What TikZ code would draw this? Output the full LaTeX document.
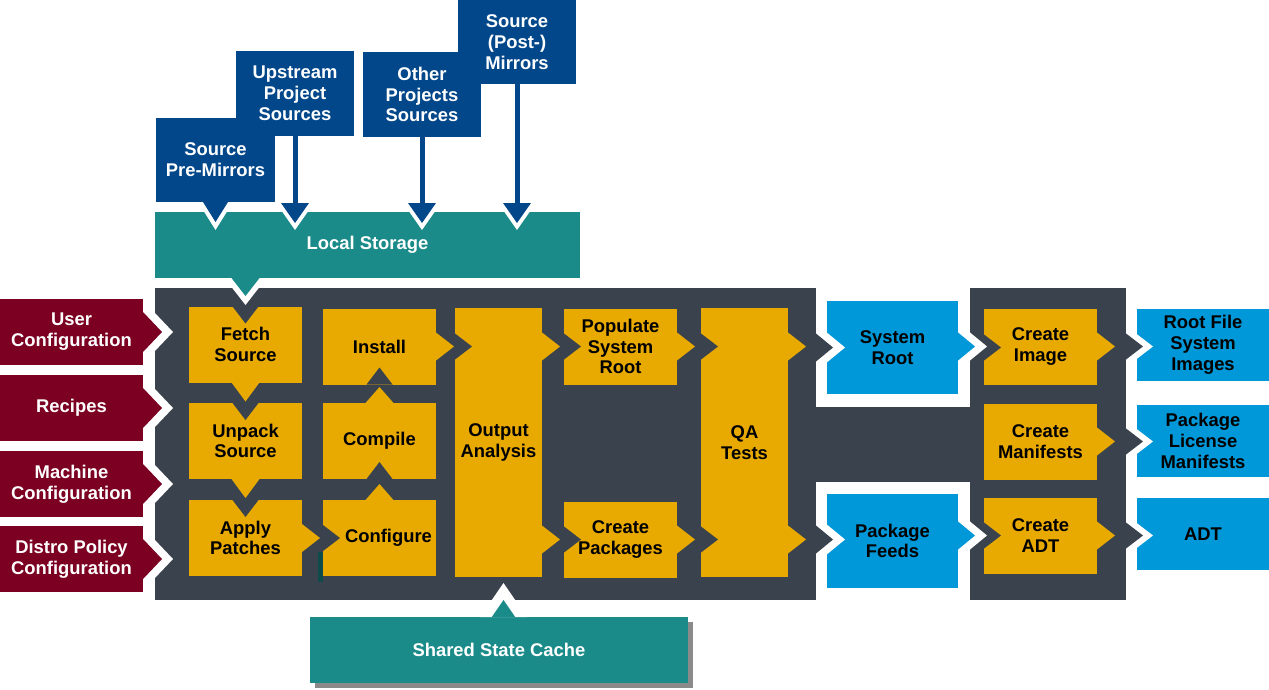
\documentclass[tikz,border=0pt]{standalone}
\usepackage{fontspec}
\setmainfont{Liberation Sans}
\usetikzlibrary{calc,shadows}
\definecolor{srcblue}{RGB}{2,71,137}
\definecolor{storeteal}{RGB}{26,139,136}
\definecolor{panelgray}{RGB}{58,67,77}
\definecolor{taskgold}{RGB}{232,169,0}
\definecolor{outblue}{RGB}{0,152,216}
\definecolor{confred}{RGB}{123,0,34}
\newcommand{\boxfont}{\fontsize{13.8}{15.6}\selectfont\bfseries}
\tikzstyle{block}=[inner sep=0pt, outer sep=0pt, align=center, font=\boxfont]
\tikzstyle{area}=[block, fill=panelgray]
\tikzstyle{source}=[block, fill=srcblue, text=white]
\tikzstyle{store}=[block, fill=storeteal, text=white]
\tikzstyle{cache}=[store, drop shadow={shadow xshift=3.4pt, shadow yshift=-3.4pt, fill=black!46, opacity=1}]
\tikzstyle{config}=[block, fill=confred, text=white]
\tikzstyle{task}=[block, fill=taskgold, text=black]
\tikzstyle{result}=[block, fill=outblue, text=black]
\tikzstyle{shaft}=[draw=srcblue, line width=3.75pt]
\tikzset{
  wh/.style 2 args={minimum width=#1*0.75pt, minimum height=#2*0.75pt},
  pics/chev/.style args={#1/#2/#3}{code={\fill[#1] (0,-#2) -- (#3,0) -- (0,#2) -- cycle;}},
  pics/notch/.style={code={\fill[panelgray] (0,-13) -- (17,0) -- (0,13) -- cycle;}},
  pics/wchev/.style args={#1/#2/#3/#4}{code={
      \fill[white] (0,-#2*#4/#3) -- (#4,0) -- (0,#2*#4/#3) -- cycle;
      \fill[#1] (0,-#2) -- (#3,0) -- (0,#2) -- cycle;}}
}
\begin{document}
\begin{tikzpicture}[x=0.75pt, y=-0.75pt]
\useasboundingbox (0,0) rectangle (1269,689);

% the dark build area
\node[area, wh={661}{312}] (core) at (485.5,444) {};
\node[area, wh={154}{75}] (band) at (893,444.5) {};
\node[area, wh={156}{312}] (imaging) at (1048,444) {};

% where the sources come from
\node[source, wh={119}{84}] (premirror) at (215.5,160) {Source\\Pre-Mirrors};
\node[source, wh={118}{85}] (upstream) at (295,93.5) {Upstream\\Project\\Sources};
\node[source, wh={118}{84}] (postmirror) at (517,42) {Source\\(Post-)\\Mirrors};
\node[source, wh={118}{85}] (otherproj) at (422,94.5) {Other\\Projects\\Sources};
\node[store, wh={425}{66}] (local) at (367.5,245) {Local Storage};
\node[cache, wh={378}{66}] (sstate) at (499,650) {Shared State Cache};

% configuration on the left
\foreach \name/\ypos/\txt in {user/332/User\\Configuration, recipes/408/Recipes,
    machine/484/Machine\\Configuration, distro/559/Distro Policy\\Configuration}
  \node[config, wh={143}{66}] (\name) at (71.5,\ypos) {\txt};

% the tasks
\foreach \name/\pos/\txt in {{fetch/(245.5,344.5)/Fetch\\Source}, {unpack/(245.5,441)/Unpack\\Source},
    {patch/(245.5,538)/Apply\\Patches}, {configure/(379.5,538)/\hspace*{13.5pt}Configure},
    {compile/(379.5,441)/Compile}, {install/(379.5,346.5)/Install},
    {populate/(620.5,346.5)/Populate\\System\\Root}, {packages/(620.5,539.5)/Create\\Packages},
    {createimg/(1040.5,346.5)/Create\\Image}, {manifests/(1040.5,441.5)/Create\\Manifests},
    {createadt/(1040.5,535.5)/Create\\ADT}}
  \node[task, wh={113}{76}] (\name) at \pos {\txt};
\node[task, wh={87}{269}] (output) at (498.5,442.5) {Output\\Analysis};
\node[task, wh={87}{269}] (qa) at (744.5,442.5) {QA\\Tests};

% what comes out
\node[result, wh={131}{93}] (sysroot) at (892.5,347.5) {System\\Root};
\node[result, wh={131}{94}] (feeds) at (892.5,541) {Package\\Feeds};
\foreach \name/\ypos/\txt in {rootfs/345/Root File\\System\\Images, licman/441/Package\\License\\Manifests, adt/534/ADT}
  \node[result, wh={132}{72}] (\name) at (1203,\ypos) {\txt};

% notches cut into the receiving boxes
\foreach \spot in {(configure.west |- patch), (output.west |- install), (populate.west), (packages.west),
    (qa.west |- populate), (qa.west |- packages), (createimg.west |- sysroot), (createadt.west)}
  \pic at \spot {notch};
\foreach \spot in {(fetch.north), (unpack.north), (patch.north)}
  \pic[rotate=-90] at \spot {notch};
\foreach \spot in {(install.south), (compile.south)}
  \pic[rotate=90] at \spot {notch};

% chevrons between the tasks
\foreach \spot in {(patch.east), (install.east), (output.east |- populate), (output.east |- packages),
    (populate.east), (packages.east), (qa.east |- populate), (qa.east |- packages),
    (createimg.east), (manifests.east), (createadt.east)}
  \pic at \spot {chev=taskgold/14/18};
\foreach \spot in {(fetch.south), (unpack.south)}
  \pic[rotate=-90] at \spot {chev=taskgold/14/19};
\foreach \spot in {(configure.north), (compile.north)}
  \pic[rotate=90] at \spot {chev=taskgold/14/16};

% chevrons with a white rim
\foreach \cfg in {user, recipes, machine, distro}
  \pic at (\cfg.east) {wchev=confred/20/19/30};
\pic[rotate=-90] at (premirror.south) {wchev=srcblue/12.5/20/28};
\foreach \src in {upstream, otherproj, postmirror} {
  \draw[shaft] (\src.south) -- ($(\src.south |- local.north)+(0,-8)$);
  \pic[rotate=-90] at ($(\src.south |- local.north)+(0,-9)$) {wchev=srcblue/14/20/27};
}
\pic[rotate=-90] at (local.south -| fetch) {wchev=storeteal/14/18/27};
\pic[rotate=90] at ($(sstate.north)+(4.5,0)$) {wchev=storeteal/11.7/17/34};
\foreach \spot in {(core.east |- sysroot), (core.east |- packages)}
  \pic at \spot {wchev=panelgray/14/17/29};
\foreach \spot in {(sysroot.east |- createimg), (feeds.east |- createadt)}
  \pic at \spot {wchev=outblue/14/17/29};
\foreach \spot in {(imaging.east |- createimg), (imaging.east |- manifests), (imaging.east |- createadt)}
  \pic at \spot {wchev=panelgray/13/17/27};

\fill[storeteal!55!black] (318,552) rectangle (323,582);
\end{tikzpicture}
\end{document}
